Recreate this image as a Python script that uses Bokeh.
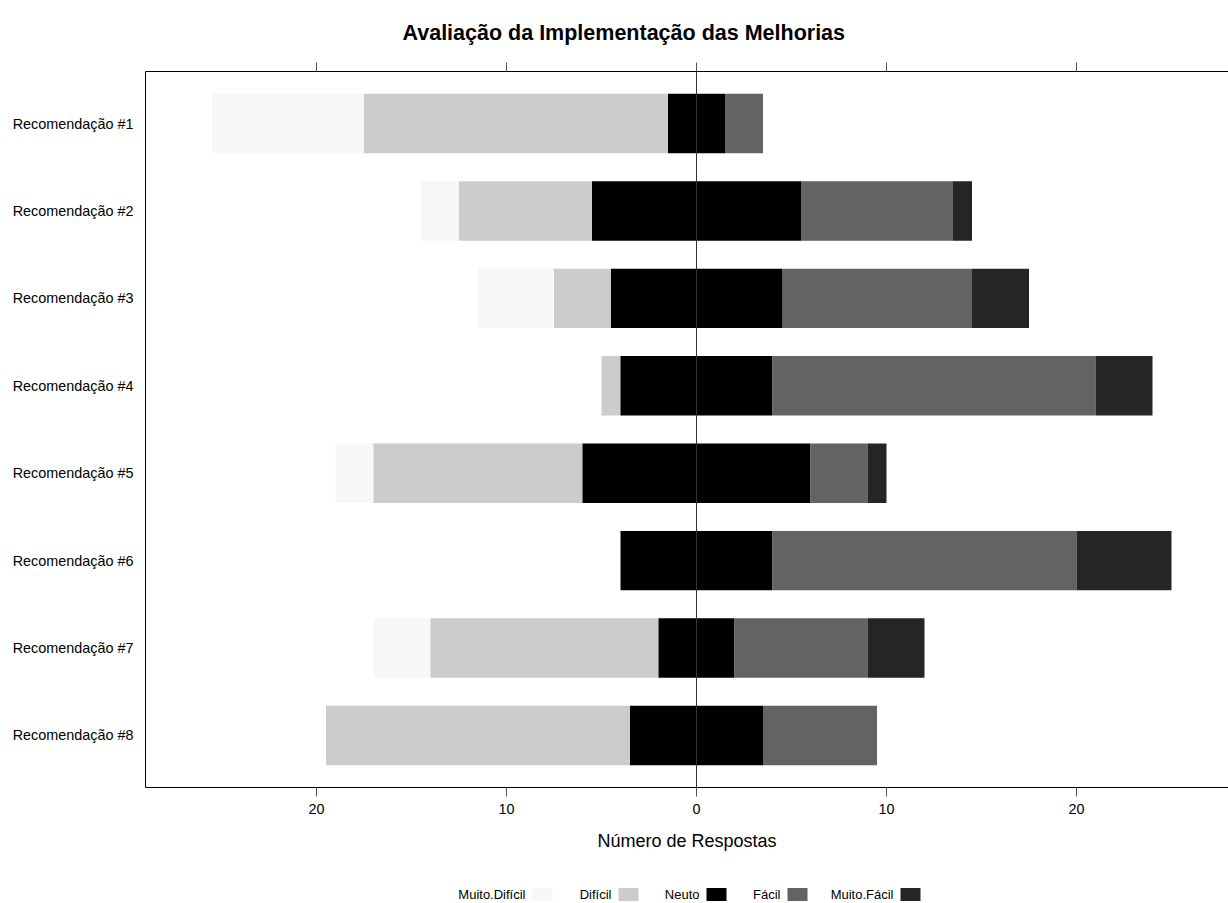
import numpy as np
from bokeh.plotting import figure
from bokeh.models import Range1d, LinearAxis, FixedTicker, Span, ColumnDataSource
from bokeh.layouts import column
from bokeh.embed import file_html
from bokeh.resources import INLINE
from bokeh.core.properties import value

# ---------------- data ----------------
categories = ["Recomendação #1", "Recomendação #2", "Recomendação #3", "Recomendação #4",
              "Recomendação #5", "Recomendação #6", "Recomendação #7", "Recomendação #8"]
series_names = ["Muito.Difícil", "Difícil", "Neuto", "Fácil", "Muito.Fácil"]
muito_dificil = [8, 2, 4, 0, 2, 0, 3, 0]
dificil = [16, 7, 3, 1, 11, 0, 12, 16]
neutro = [3, 11, 9, 8, 12, 8, 4, 7]
facil = [2, 8, 10, 17, 3, 16, 7, 6]
muito_facil = [0, 1, 3, 3, 1, 5, 3, 0]
x_ticks = [-20, -10, 0, 10, 20]
x_tick_labels = ["20", "10", "0", "10", "20"]

# ---------------- style ----------------
colors = ["#F7F7F7", "#CCCCCC", "#000000", "#636363", "#252525"]
FONT = "Liberation Sans"
W = 1228
H_MAIN = 854
H_LEG = 49
FRAME_LEFT = 145
FRAME_TOP = 71
FRAME_BOTTOM = 787

ypos = np.arange(1, len(categories) + 1)
half = np.array(neutro) / 2.0
neut_l = -half
neut_r = half
dif_l = neut_l - np.array(dificil)
md_l = dif_l - np.array(muito_dificil)
fac_r = neut_r + np.array(facil)
mf_r = fac_r + np.array(muito_facil)
segments = [(md_l, dif_l), (dif_l, neut_l), (neut_l, neut_r), (neut_r, fac_r), (fac_r, mf_r)]

p = figure(width=W, height=H_MAIN,
           x_range=Range1d(-29.0, 28.0), y_range=Range1d(8.595, 0.405),
           output_backend="svg", toolbar_location=None,
           x_axis_location=None, y_axis_location=None,
           min_border_left=FRAME_LEFT, min_border_right=0,
           min_border_top=FRAME_TOP, min_border_bottom=H_MAIN - FRAME_BOTTOM)
p.outline_line_color = None
p.grid.visible = False
p.background_fill_color = "white"
p.border_fill_color = "white"

for (lft, rgt), col in zip(segments, colors):
    src = ColumnDataSource(dict(y=ypos, left=lft, right=rgt))
    p.hbar(y="y", left="left", right="right", height=0.68, source=src,
           fill_color=col, line_color=None)

p.add_layout(Span(location=0, dimension="height", line_color="#333333", line_width=1))

# bottom axis
xb = LinearAxis(ticker=FixedTicker(ticks=x_ticks),
                major_label_overrides={t: l for t, l in zip(x_ticks, x_tick_labels)},
                axis_label="Número de Respostas")
# top axis
xt = LinearAxis(ticker=FixedTicker(ticks=x_ticks),
                major_label_overrides={t: "" for t in x_ticks})
for ax in (xb, xt):
    ax.axis_line_color = "black"
    ax.axis_line_width = 1
    ax.major_tick_line_color = "#555555"
    ax.major_tick_out = 9
    ax.major_tick_in = 0
    ax.minor_tick_line_color = None
    ax.major_label_text_font = FONT
    ax.major_label_text_font_size = "14.4px"
    ax.major_label_text_color = "black"
    ax.major_label_standoff = 7
xt.major_label_text_font_size = "1px"
xt.major_label_standoff = 0
xb.axis_label_text_font = FONT
xb.axis_label_text_font_size = "18px"
xb.axis_label_text_font_style = "normal"
xb.axis_label_text_color = "black"
xb.axis_label_standoff = 14
p.add_layout(xb, "below")
p.add_layout(xt, "above")

# left axis
yl = LinearAxis(ticker=FixedTicker(ticks=list(ypos)),
                major_label_overrides={int(i): c for i, c in zip(ypos, categories)})
yl.axis_line_color = "black"
yl.major_tick_line_color = None
yl.major_tick_out = 0
yl.major_tick_in = 0
yl.minor_tick_line_color = None
yl.major_label_text_font = FONT
yl.major_label_text_font_size = "14.4px"
yl.major_label_text_color = "black"
yl.major_label_standoff = 12
p.add_layout(yl, "left")

p.title.text = "Avaliação da Implementação das Melhorias"
p.title.align = "left"
p.title.offset = 257
p.title.text_font = FONT
p.title.text_font_size = "21.5px"
p.title.text_font_style = "bold"
p.title.text_color = "black"
p.title.standoff = 36

# ---------------- legend (separate strip, frame aligned with main frame) ----------------
swatch_left = [532, 618, 706, 787, 900]   # screen px layout
leg = figure(width=W, height=H_LEG,
             x_range=Range1d(FRAME_LEFT, W), y_range=Range1d(H_LEG, 0),
             output_backend="svg", toolbar_location=None,
             x_axis_location=None, y_axis_location=None,
             min_border=0, min_border_left=FRAME_LEFT)
leg.outline_line_color = None
leg.grid.visible = False
ly = 40
leg.rect(x=[s + 10 for s in swatch_left], y=[ly] * 5, width=20, height=13,
         fill_color=colors, line_color=None)
leg.text(x=[s - 7 for s in swatch_left], y=[ly] * 5, text=series_names,
         text_align="right", text_baseline="middle",
         text_font=value(FONT), text_font_size="13px", text_color="black")

layout = column(p, leg, spacing=0)
open("out.html", "w").write(file_html(layout, INLINE))
